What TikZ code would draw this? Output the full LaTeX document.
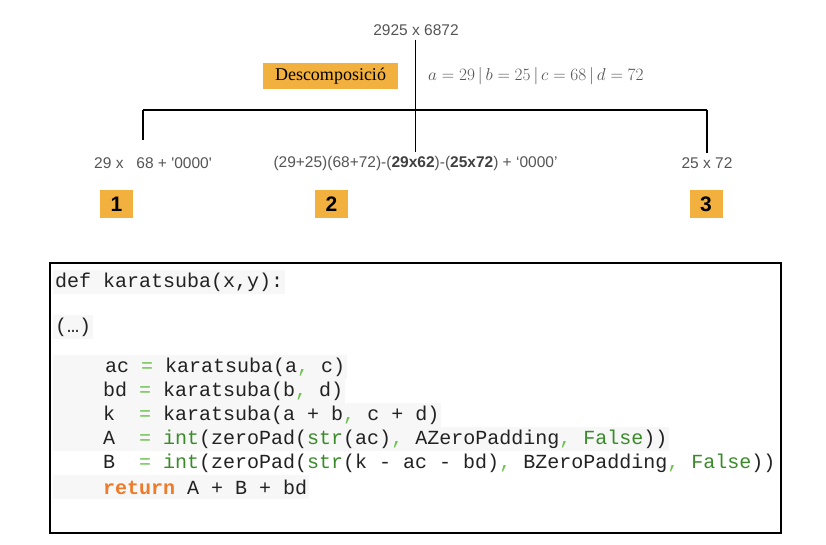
\documentclass[tikz,border=0pt]{standalone}
\usepackage{fontspec}
\setmainfont{Liberation Serif}
\setmonofont{Liberation Mono}
\newfontfamily\lsans{Liberation Sans}
\definecolor{boxorange}{HTML}{F2B13E}
\definecolor{labgray}{HTML}{555555}
\definecolor{codeink}{HTML}{222222}
\definecolor{eqgreen}{HTML}{6CC24F}
\definecolor{kwgreen}{HTML}{3A8A2A}
\definecolor{retorange}{HTML}{EE7A2A}
\definecolor{hlgray}{HTML}{F7F7F7}
\newcommand{\eq}{\textcolor{eqgreen}{=}}
\newcommand{\cm}{\textcolor{eqgreen}{,}}
\newcommand{\kw}[1]{\textcolor{kwgreen}{#1}}
\begin{document}
\begin{tikzpicture}[x=1pt,y=-1pt,
  treeline/.style={line width=1.6pt,black},
  lab/.style={font=\lsans\fontsize{15.5}{18}\selectfont,text=labgray,inner xsep=0pt,inner ysep=4pt},
  numbox/.style={fill=boxorange,minimum width=33pt,minimum height=28pt,inner sep=0pt,font=\lsans\bfseries\fontsize{21}{22}\selectfont,text=black},
  codeline/.style={anchor=west,fill=hlgray,inner xsep=2pt,inner ysep=0pt,minimum height=24pt,font=\ttfamily\fontsize{20}{24}\selectfont,text=codeink}
]
\useasboundingbox (0,0) rectangle (826,545);
% top of tree
\node[lab] (top) at (416,30) {2925 x 6872};
\node[fill=boxorange,minimum width=135pt,minimum height=26pt,inner sep=0pt,font=\fontsize{18}{20}\selectfont] (dec) at (330.5,76) {Descomposició};
\node[anchor=west,text=labgray,inner sep=0pt,font=\fontsize{17}{20}\selectfont] (vals) at (428,76) {$a=29\,|\,b=25\,|\,c=68\,|\,d=72$};
% labels
\node[lab] (lab1) at (153,163) {29 x\ \ \ 68 + '0000'};
\node[lab] (lab2) at (415.5,163) {(29+25)(68+72)-(\textbf{\color{black!75}29x62})-(\textbf{\color{black!75}25x72}) + ‘0000’};
\node[lab] (lab3) at (707,163) {25 x 72};
\coordinate (j1) at (143,110);
\coordinate (j3) at (707,110);
\coordinate (e1) at (143,140);
\draw[treeline] (top.south -| lab2.north) -- (lab2.north);
\draw[treeline] (j1) -- (j3);
\draw[treeline] (j1) -- (e1);
\draw[treeline] (j3) -- (lab3.north);
% number boxes
\node[numbox] (n1) at (116.5,204) {1};
\node[numbox] (n2) at (331.5,204) {2};
\node[numbox] (n3) at (706,204) {3};
% code box
\node[draw=black,line width=1.5pt,minimum width=731pt,minimum height=270pt,inner sep=0pt] (code) at (415.5,398) {};
\node[codeline] (c1) at (53,282) {def karatsuba(x,y):};
\node[codeline] (c2) at (53,327) {(…)};
\node[codeline] (c3) at (53,367) {\ \ \ \ \hspace{2pt}ac \eq{} karatsuba(a\cm{} c)};
\node[codeline] (c4) at (53,391) {\ \ \ \ bd \eq{} karatsuba(b\cm{} d)};
\node[codeline] (c5) at (53,415) {\ \ \ \ k\ \ \eq{} karatsuba(a + b\cm{} c + d)};
\node[codeline] (c6) at (53,439) {\ \ \ \ A\ \ \eq{} \kw{int}(zeroPad(\kw{str}(ac)\cm{} AZeroPadding\cm{} \kw{False}))};
\node[codeline,fill=none] (c7) at (53,463) {\ \ \ \ B\ \ \eq{} \kw{int}(zeroPad(\kw{str}(k - ac - bd)\cm{} BZeroPadding\cm{} \kw{False}))};
\node[codeline] (c8) at (53,487) {\ \ \ \ \textcolor{retorange}{\bfseries return} A + B + bd};
\end{tikzpicture}
\end{document}
